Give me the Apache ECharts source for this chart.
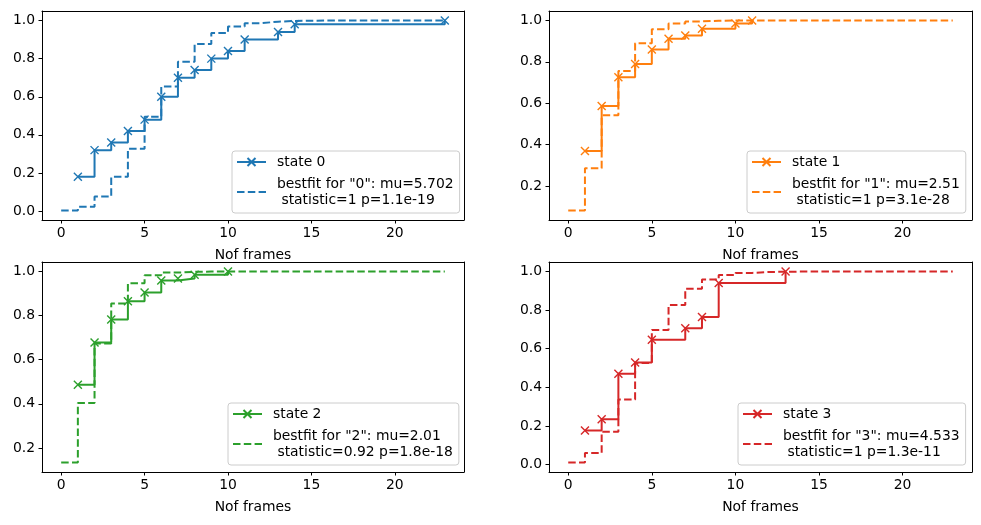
<!DOCTYPE html>
<html>
<head>
<meta charset="utf-8">
<script src="https://cdn.jsdelivr.net/npm/echarts@6/dist/echarts.min.js"></script>
<style>
  html, body { margin: 0; padding: 0; background: #fff; }
  #chart { width: 981px; height: 525px; }
</style>
</head>
<body>
<div id="chart"></div>
<script>
// empirical CDF of each state (x = frames, y = cumulative fraction)
var xs0 = [1, 2, 3, 4, 5, 6, 7, 8, 9, 10, 11, 13, 14, 23];
var ys0 = [0.18, 0.32, 0.36, 0.42, 0.48, 0.60, 0.70, 0.74, 0.80, 0.84, 0.90, 0.94, 0.98, 1.0];
var xs1 = [1, 2, 3, 4, 5, 6, 7, 8, 10, 11];
var ys1 = [0.369, 0.587, 0.726, 0.790, 0.860, 0.912, 0.928, 0.960, 0.986, 1.0];
var xs2 = [1, 2, 3, 4, 5, 6, 7, 8, 10];
var ys2 = [0.486, 0.678, 0.783, 0.865, 0.905, 0.959, 0.968, 0.986, 1.0];
var xs3 = [1, 2, 3, 4, 5, 7, 8, 9, 13];
var ys3 = [0.176, 0.235, 0.471, 0.529, 0.647, 0.706, 0.765, 0.941, 1.0];

// best fit curves, x = 0..23
var fitX = [0, 1, 2, 3, 4, 5, 6, 7, 8, 9, 10, 11, 12, 13, 14, 15, 16, 17, 18, 19, 20, 21, 22, 23];
var fit0 = [0.0033, 0.0224, 0.0767, 0.1798, 0.3269, 0.4946, 0.6540, 0.7839, 0.8764, 0.9350, 0.9685, 0.9858,
            0.9940, 0.9977, 0.9991, 0.9997, 0.9999, 0.9999, 1.0, 1.0, 1.0, 1.0, 1.0, 1.0];
var fit1 = [0.0813, 0.2853, 0.5413, 0.7555, 0.8899, 0.9573, 0.9856, 0.9957, 0.9989, 0.9998, 1.0, 1.0,
            1.0, 1.0, 1.0, 1.0, 1.0, 1.0, 1.0, 1.0, 1.0, 1.0, 1.0, 1.0];
var fit2 = [0.1340, 0.4033, 0.6740, 0.8553, 0.9465, 0.9831, 0.9954, 0.9989, 0.9998, 1.0, 1.0, 1.0,
            1.0, 1.0, 1.0, 1.0, 1.0, 1.0, 1.0, 1.0, 1.0, 1.0, 1.0, 1.0];
var fit3 = [0.0107, 0.0595, 0.1699, 0.3368, 0.5259, 0.6973, 0.8268, 0.9107, 0.9582, 0.9822, 0.9930, 0.9975,
            0.9992, 0.9998, 1.0, 1.0, 1.0, 1.0, 1.0, 1.0, 1.0, 1.0, 1.0, 1.0];

var stateNames = ['state 0', 'state 1', 'state 2', 'state 3'];
var fitNames = [
  'bestfit for "0": mu=5.702\n statistic=1 p=1.1e-19',
  'bestfit for "1": mu=2.51\n statistic=1 p=3.1e-28',
  'bestfit for "2": mu=2.01\n statistic=0.92 p=1.8e-18',
  'bestfit for "3": mu=4.533\n statistic=1 p=1.3e-11'
];
var yTicks01 = [0, 0.2, 0.4, 0.6, 0.8, 1.0];
var yTicks02 = [0.2, 0.4, 0.6, 0.8, 1.0];
var xTicks = [0, 5, 10, 15, 20];

var colors = ['#1f77b4', '#ff7f0e', '#2ca02c', '#d62728'];
var font = 'DejaVu Sans';

// layout of the 4 panels (matplotlib 2x2)
var panels = [
  {grid: {left: 42, top: 11, width: 422, height: 209}, ymin: -0.0465, ymax: 1.0498, yticks: yTicks01,
   xs: xs0, ys: ys0, fit: fit0, legend: {left: 232, top: 151}},
  {grid: {left: 549, top: 11, width: 423, height: 209}, ymin: 0.0354, ymax: 1.0459, yticks: yTicks02,
   xs: xs1, ys: ys1, fit: fit1, legend: {left: 747, top: 151}},
  {grid: {left: 42, top: 262, width: 422, height: 210}, ymin: 0.0907, ymax: 1.0433, yticks: yTicks02,
   xs: xs2, ys: ys2, fit: fit2, legend: {left: 228, top: 403}},
  {grid: {left: 549, top: 262, width: 423, height: 210}, ymin: -0.0387, ymax: 1.0495, yticks: yTicks01,
   xs: xs3, ys: ys3, fit: fit3, legend: {left: 738, top: 403}}
];

function pairs(xs, ys) {
  var out = [];
  for (var i = 0; i < xs.length; i++) out.push([xs[i], ys[i]]);
  return out;
}

var grids = [], xAxes = [], yAxes = [], series = [], legends = [];
panels.forEach(function (p, i) {
  grids.push({
    left: p.grid.left, top: p.grid.top, width: p.grid.width, height: p.grid.height
  });
  // bottom x axis with ticks, then a bare top spine
  xAxes.push({
    type: 'value', gridIndex: i, min: -1.15, max: 24.15, position: 'bottom',
    name: 'Nof frames', nameLocation: 'middle', nameGap: 28,
    nameTextStyle: {fontFamily: font, fontSize: 13.9, color: '#000'},
    axisLine: {show: true, onZero: false, lineStyle: {color: '#000', width: 1}},
    axisTick: {show: true, inside: false, length: 3.5, lineStyle: {color: '#000'}, customValues: xTicks},
    axisLabel: {fontFamily: font, fontSize: 13.9, color: '#000', margin: 6, customValues: xTicks},
    splitLine: {show: false}
  });
  xAxes.push({
    type: 'value', gridIndex: i, min: -1.15, max: 24.15, position: 'top',
    axisLine: {show: true, onZero: false, lineStyle: {color: '#000', width: 1}},
    axisTick: {show: false}, axisLabel: {show: false}, splitLine: {show: false}
  });
  // left y axis with ticks, then a bare right spine
  yAxes.push({
    type: 'value', gridIndex: i, min: p.ymin, max: p.ymax, position: 'left',
    axisLine: {show: true, onZero: false, lineStyle: {color: '#000', width: 1}},
    axisTick: {show: true, inside: false, length: 3.5, lineStyle: {color: '#000'}, customValues: p.yticks},
    axisLabel: {
      fontFamily: font, fontSize: 13.9, color: '#000', margin: 7, customValues: p.yticks,
      formatter: function (v) { return v.toFixed(1); }
    },
    splitLine: {show: false}
  });
  yAxes.push({
    type: 'value', gridIndex: i, min: p.ymin, max: p.ymax, position: 'right',
    axisLine: {show: true, onZero: false, lineStyle: {color: '#000', width: 1}},
    axisTick: {show: false}, axisLabel: {show: false}, splitLine: {show: false}
  });
  series.push({
    name: stateNames[i], type: 'line', xAxisIndex: i * 2, yAxisIndex: i * 2,
    step: 'end', data: pairs(p.xs, p.ys),
    symbol: 'path://M0,0L10,10M10,0L0,10', symbolSize: 8,
    itemStyle: {color: colors[i], borderColor: colors[i], borderWidth: 1.4},
    lineStyle: {color: colors[i], width: 2},
    animation: false, z: 3
  });
  series.push({
    name: fitNames[i], type: 'line', xAxisIndex: i * 2, yAxisIndex: i * 2,
    step: 'end', data: pairs(fitX, p.fit),
    symbol: 'circle', showSymbol: false,
    itemStyle: {color: 'rgba(0,0,0,0)', borderWidth: 0},
    lineStyle: {color: colors[i], width: 2, type: [7.5, 3.3]},
    animation: false, z: 2
  });
  legends.push({
    data: [stateNames[i], {name: fitNames[i], itemStyle: {opacity: 0}}],
    orient: 'vertical', left: p.legend.left, top: p.legend.top,
    itemWidth: 29, itemHeight: 10, itemGap: 6,
    padding: [3, 6, 5, 4],
    backgroundColor: 'rgba(255,255,255,0.8)', borderColor: '#cccccc', borderWidth: 1, borderRadius: 3,
    selectedMode: false,
    textStyle: {fontFamily: font, fontSize: 13.9, color: '#000', lineHeight: 16, padding: [0, 0, 0, 6]}
  });
});

var chart = echarts.init(document.getElementById('chart'), null, {renderer: 'canvas'});
chart.setOption({
  animation: false,
  backgroundColor: '#fff',
  grid: grids,
  xAxis: xAxes,
  yAxis: yAxes,
  legend: legends,
  series: series
});
</script>
</body>
</html>
